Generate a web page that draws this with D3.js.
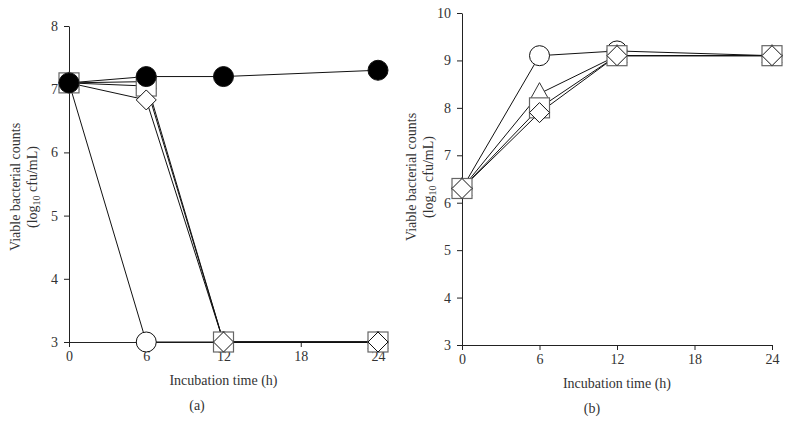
<!DOCTYPE html>
<html><head><meta charset="utf-8">
<script src="https://cdn.jsdelivr.net/npm/d3@7"></script>
<style>
body{margin:0;background:#fff;}
svg text{font-family:"Liberation Serif","DejaVu Serif",serif;fill:#333;}
</style></head>
<body><svg id="c" width="790" height="430"></svg>
<script>
const hours = [0, 6, 12, 24];
const xTicks = [0, 6, 12, 18, 24];
const yTicksA = [3, 4, 5, 6, 7, 8];
const yTicksB = [3, 4, 5, 6, 7, 8, 9, 10];

// Panel (a)
const aTriangle = [7.1, 7.12, 3, 3];
const aSquare = [7.1, 7.05, 3, 3];
const aDiamond = [7.1, 6.83, 3, 3];
const aOpenCircle = [7.1, 3, 3, 3];
const aFilledCircle = [7.1, 7.2, 7.2, 7.3];

// Panel (b)
const bOpenCircle = [6.3, 9.1, 9.2, 9.1];
const bTriangle = [6.3, 8.3, 9.1, 9.1];
const bSquare = [6.3, 8.0, 9.1, 9.1];
const bDiamond = [6.3, 7.9, 9.1, 9.1];

const svg = d3.select("#c");
const FONT = '"Liberation Serif","DejaVu Serif",serif';

function panel(cfg) {
  const x = d3.scaleLinear().domain([0, 24]).range(cfg.xr);
  const y = d3.scaleLinear().domain(cfg.yd).range(cfg.yr);
  const g = svg.append("g");
  const ax = g.append("g").attr("transform", `translate(0,${cfg.yr[0]})`)
    .call(d3.axisBottom(x).tickValues(xTicks).tickFormat(d3.format("d")).tickSizeOuter(0).tickSizeInner(5).tickPadding(4));
  const ay = g.append("g").attr("transform", `translate(${cfg.xr[0]},0)`)
    .call(d3.axisLeft(y).tickValues(cfg.yticks).tickFormat(d3.format("d")).tickSizeOuter(0).tickSizeInner(5).tickPadding(6));
  [ax, ay].forEach(a => {
    a.attr("font-family", FONT);
    a.selectAll("path,line").attr("stroke", "#222").attr("stroke-width", 1);
    a.selectAll("text").attr("font-size", 14).attr("fill", "#333");
  });
  const xm = (cfg.xr[0] + cfg.xr[1]) / 2;
  g.append("text").attr("x", xm).attr("y", cfg.yr[0] + 43).attr("text-anchor", "middle")
    .attr("font-size", 14).text("Incubation time (h)");
  g.append("text").attr("x", cfg.labX).attr("y", cfg.yr[0] + 68).attr("text-anchor", "middle")
    .attr("font-size", 14).text(cfg.label);
  const ym = cfg.ylabY;
  g.append("text").attr("transform", `translate(${cfg.ylabX},${ym}) rotate(-90)`)
    .attr("text-anchor", "middle").attr("font-size", 14).text("Viable bacterial counts");
  const t2 = g.append("text").attr("transform", `translate(${cfg.ylabX + 17},${ym}) rotate(-90)`)
    .attr("text-anchor", "middle").attr("font-size", 14);
  t2.append("tspan").text("(log");
  t2.append("tspan").attr("font-size", 10).attr("dy", 3).text("10");
  t2.append("tspan").attr("dy", -3).text(" cfu/mL)");

  const line = d3.line().x((d, i) => x(hours[i])).y(d => y(d));
  cfg.series.forEach(s => {
    g.append("path").datum(s.v).attr("d", line).attr("fill", "none")
      .attr("stroke", "#111").attr("stroke-width", 1);
  });
  cfg.series.forEach(s => {
    const mg = g.append("g");
    s.v.forEach((v, i) => {
      const cx = x(hours[i]), cy = y(v);
      if (s.m === "circle" || s.m === "fcircle") {
        mg.append("circle").attr("cx", cx).attr("cy", cy).attr("r", 10)
          .attr("fill", s.m === "fcircle" ? "#000" : "#fff").attr("stroke", "#111").attr("stroke-width", 1);
      } else if (s.m === "square") {
        mg.append("rect").attr("x", cx - 10).attr("y", cy - 10).attr("width", 20).attr("height", 20)
          .attr("fill", "#fff").attr("stroke", "#666").attr("stroke-width", 1.2);
      } else if (s.m === "diamond") {
        mg.append("path").attr("d", `M${cx},${cy - 10}L${cx + 10},${cy}L${cx},${cy + 10}L${cx - 10},${cy}Z`)
          .attr("fill", "#fff").attr("stroke", "#111").attr("stroke-width", 1);
      } else if (s.m === "triangle") {
        mg.append("path").attr("d", `M${cx},${cy - 11}L${cx + 10},${cy + 7}L${cx - 10},${cy + 7}Z`)
          .attr("fill", "#fff").attr("stroke", "#333").attr("stroke-width", 1);
      }
    });
  });
}

panel({
  xr: [69, 378], yd: [3, 8], yr: [342, 26], yticks: yTicksA,
  label: "(a)", labX: 197, ylabX: 20, ylabY: 187,
  series: [
    {v: aOpenCircle, m: "circle"},
    {v: aTriangle, m: "triangle"},
    {v: aSquare, m: "square"},
    {v: aDiamond, m: "diamond"},
    {v: aFilledCircle, m: "fcircle"}
  ]
});

panel({
  xr: [462, 772], yd: [3, 10], yr: [345, 13], yticks: yTicksB,
  label: "(b)", labX: 592, ylabX: 416, ylabY: 177,
  series: [
    {v: bOpenCircle, m: "circle"},
    {v: bTriangle, m: "triangle"},
    {v: bSquare, m: "square"},
    {v: bDiamond, m: "diamond"}
  ]
});
</script></body></html>
